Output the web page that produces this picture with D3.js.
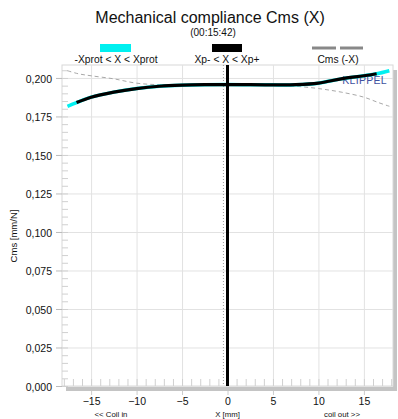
<!DOCTYPE html>
<html>
<head>
<meta charset="utf-8">
<script src="https://cdn.jsdelivr.net/npm/d3@7/dist/d3.min.js"></script>
<style>
  html, body { margin: 0; padding: 0; background: #fff; }
  svg { display: block; font-family: "Liberation Sans", Arial, sans-serif; }
</style>
</head>
<body>
<svg id="chart" width="398" height="419"></svg>
<script>
// Displacement X [mm] and compliance Cms [mm/N], full protected range
const protX   = [-17.6, -16.6, -15, -12.5, -10, -7.5, -5, -2.5, 0, 2.5, 5, 7.5, 10, 12.5, 15, 16.4, 17.8];
const protCms = [0.1816, 0.1840, 0.1875, 0.1908, 0.1931, 0.1946, 0.1953, 0.1956, 0.1957, 0.1956, 0.1955, 0.1956, 0.1966, 0.1994, 0.2014, 0.2027, 0.2047];

// Working range Xp- .. Xp+
const workX   = [-16.6, -15, -12.5, -10, -7.5, -5, -2.5, 0, 2.5, 5, 7.5, 10, 12.5, 15, 16.4];
const workCms = [0.1840, 0.1875, 0.1908, 0.1931, 0.1946, 0.1953, 0.1956, 0.1957, 0.1956, 0.1955, 0.1956, 0.1966, 0.1994, 0.2014, 0.2027];

// Mirrored curve Cms(-X)
const mirX   = [-17.6, -16.4, -15, -12.5, -10, -7.5, -5, -2.5, 0, 2.5, 5, 7.5, 10, 12.5, 15, 16.6, 17.8];
const mirCms = [0.2047, 0.2027, 0.2014, 0.1994, 0.1966, 0.1956, 0.1955, 0.1956, 0.1957, 0.1956, 0.1953, 0.1946, 0.1931, 0.1908, 0.1875, 0.1840, 0.1816];

const xTicks = [-15, -10, -5, 0, 5, 10, 15];
const yTicks = [0, 0.025, 0.05, 0.075, 0.1, 0.125, 0.15, 0.175, 0.2];
const legendLabels = ["-Xprot < X < Xprot", "Xp- < X < Xp+", "Cms (-X)"];
const restX = -0.45;   // rest position marker (dotted)
const centerX = 0;     // operating point marker

const svg = d3.select("#chart");
const L = 62, R = 393, T = 65, B = 386;

const x = d3.scaleLinear().domain([-18.2, 18.2]).range([L, R]);
const y = d3.scaleLinear().domain([0, 0.2084]).range([B, T]);

// Title
svg.append("text").attr("x", 210).attr("y", 23).attr("text-anchor", "middle")
  .attr("font-size", 16).attr("fill", "#111").text("Mechanical compliance Cms (X)");
svg.append("text").attr("x", 213).attr("y", 35.5).attr("text-anchor", "middle")
  .attr("font-size", 10).attr("fill", "#111").text("(00:15:42)");

// Drop shadow of the plot frame
svg.append("rect").attr("x", L + 4).attr("y", B).attr("width", R - L).attr("height", 5).attr("fill", "#c4c4c4");
svg.append("rect").attr("x", R).attr("y", T + 5).attr("width", 4).attr("height", B - T).attr("fill", "#c4c4c4");

// Plot background and frame
svg.append("rect").attr("x", L).attr("y", T).attr("width", R - L).attr("height", B - T)
  .attr("fill", "#fff").attr("stroke", "#d8d8d8").attr("stroke-width", 1);

const grid = svg.append("g");
grid.selectAll("line.v").data(xTicks).join("line")
  .attr("x1", d => x(d) + 0.5).attr("x2", d => x(d) + 0.5).attr("y1", T).attr("y2", B)
  .attr("stroke", "#e2e2e2").attr("stroke-width", 1);
grid.selectAll("line.h").data(yTicks).join("line")
  .attr("x1", L).attr("x2", R).attr("y1", d => y(d) + 0.5).attr("y2", d => y(d) + 0.5)
  .attr("stroke", "#e2e2e2").attr("stroke-width", 1);

// Minor ticks inside the frame
const yMinor = d3.range(0, 0.2051, 0.005);
grid.selectAll("line.ym").data(yMinor).join("line")
  .attr("x1", L).attr("x2", L + 6).attr("y1", d => y(d) + 0.5).attr("y2", d => y(d) + 0.5)
  .attr("stroke", "#d0d0d0");
const xMinor = d3.range(-18, 18.01, 1);
grid.selectAll("line.xm").data(xMinor).join("line")
  .attr("x1", d => x(d) + 0.5).attr("x2", d => x(d) + 0.5).attr("y1", B - 7).attr("y2", B)
  .attr("stroke", "#d0d0d0");

// Axes
const yAxis = d3.axisLeft(y).tickValues(yTicks).tickSize(6).tickPadding(4)
  .tickFormat(d => d3.format(".3f")(d).replace(".", ","));
const gy = svg.append("g").attr("transform", `translate(${L},0)`).call(yAxis);
gy.select(".domain").remove();
gy.selectAll(".tick line").attr("stroke", "#bbb");
gy.selectAll(".tick text").attr("font-size", 10.5).attr("fill", "#111")
  .attr("font-family", "Liberation Sans, Arial, sans-serif").attr("dy", "0.4em");

const xAxis = d3.axisBottom(x).tickValues(xTicks).tickSize(4).tickPadding(3).tickFormat(d3.format("d"));
const gx = svg.append("g").attr("transform", `translate(0,${B + 5})`).call(xAxis);
gx.select(".domain").remove();
gx.selectAll(".tick line").attr("stroke", "#ccc");
gx.selectAll(".tick text").attr("font-size", 10.5).attr("fill", "#111")
  .attr("font-family", "Liberation Sans, Arial, sans-serif");

svg.append("text").attr("transform", "translate(17,236) rotate(-90)").attr("text-anchor", "middle")
  .attr("font-size", 9.5).attr("fill", "#111").text("Cms [mm/N]");
svg.append("text").attr("x", 111).attr("y", 417).attr("text-anchor", "middle")
  .attr("font-size", 7.8).attr("fill", "#111").text("<< Coil in");
svg.append("text").attr("x", x(0)).attr("y", 417).attr("text-anchor", "middle")
  .attr("font-size", 7.8).attr("fill", "#111").text("X [mm]");
svg.append("text").attr("x", 342).attr("y", 417).attr("text-anchor", "middle")
  .attr("font-size", 7.8).attr("fill", "#111").text("coil out >>");

// Watermark
svg.append("text").attr("x", 387).attr("y", 84).attr("text-anchor", "end")
  .attr("font-size", 10.5).attr("fill", "#3f51a0").attr("letter-spacing", 0.3).text("KLIPPEL");

// Curves
const line = d3.line().x(d => x(d[0])).y(d => y(d[1])).curve(d3.curveCatmullRom.alpha(0.5));
const zip = (a, b) => a.map((v, i) => [v, b[i]]);

svg.append("path").datum(zip(mirX, mirCms)).attr("d", line)
  .attr("fill", "none").attr("stroke", "#a8a8a8").attr("stroke-width", 1)
  .attr("stroke-dasharray", "4,3");

// Marker lines
svg.append("line").attr("x1", x(restX)).attr("x2", x(restX)).attr("y1", T).attr("y2", B)
  .attr("stroke", "#999").attr("stroke-width", 1).attr("stroke-dasharray", "1,2");

svg.append("path").datum(zip(protX, protCms)).attr("d", line)
  .attr("fill", "none").attr("stroke", "#00f0f0").attr("stroke-width", 3.5);
svg.append("path").datum(zip(workX, workCms)).attr("d", line)
  .attr("fill", "none").attr("stroke", "#000").attr("stroke-width", 3.2);

svg.append("line").attr("x1", x(centerX)).attr("x2", x(centerX)).attr("y1", T).attr("y2", B)
  .attr("stroke", "#000").attr("stroke-width", 3);

// Legend
const lg = svg.append("g");
lg.append("rect").attr("x", 100).attr("y", 44).attr("width", 31).attr("height", 8).attr("fill", "#00f0f0");
lg.append("rect").attr("x", 212).attr("y", 44).attr("width", 30).attr("height", 8).attr("fill", "#000");
lg.append("line").attr("x1", 312).attr("x2", 336).attr("y1", 48).attr("y2", 48).attr("stroke", "#888").attr("stroke-width", 3);
lg.append("line").attr("x1", 340).attr("x2", 363).attr("y1", 48).attr("y2", 48).attr("stroke", "#888").attr("stroke-width", 3);
const lgX = [116, 227, 338];
lg.selectAll("text").data(legendLabels).join("text")
  .attr("x", (d, i) => lgX[i]).attr("y", 63).attr("text-anchor", "middle")
  .attr("font-size", 10.3).attr("fill", "#111").text(d => d);
</script>
</body>
</html>
